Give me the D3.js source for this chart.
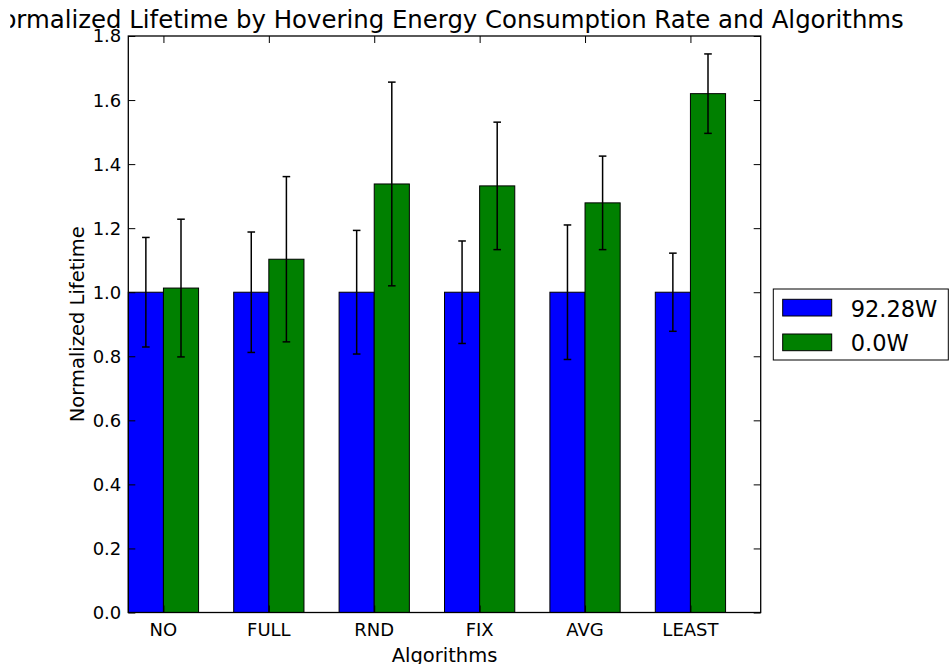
<!DOCTYPE html>
<html>
<head>
<meta charset="utf-8">
<script src="https://cdn.jsdelivr.net/npm/d3@7"></script>
<style>
  body { margin: 0; background: #fff; }
  svg { display: block; font-family: "DejaVu Sans", sans-serif; }
</style>
</head>
<body>
<svg id="chart" width="951" height="664"></svg>
<script>
// data
var algorithms = ["NO", "FULL", "RND", "FIX", "AVG", "LEAST"];
var seriesNames = ["92.28W", "0.0W"];
var seriesColors = ["#0000ff", "#008000"];
var values9228 = [1.0, 1.0, 1.0, 1.0, 1.0, 1.0];
var errors9228 = [0.171, 0.188, 0.193, 0.160, 0.210, 0.122];
var values00 = [1.013, 1.103, 1.338, 1.332, 1.279, 1.620];
var errors00 = [0.215, 0.258, 0.318, 0.199, 0.146, 0.124];
var yTicks = [0.0, 0.2, 0.4, 0.6, 0.8, 1.0, 1.2, 1.4, 1.6, 1.8];

var barWidth = 1 / 3;

var svg = d3.select("#chart");
// plot box (named so they don't clash with window.top)
var plotLeft = 128.3, plotRight = 760.7, plotTop = 36, plotBottom = 612.5;

var xScale = d3.scaleLinear().domain([0, algorithms.length]).range([plotLeft, plotRight]);
var yScale = d3.scaleLinear().domain([0, 1.8]).range([plotBottom, plotTop]);

// bars, one group per series
var series = [
  {name: seriesNames[0], color: seriesColors[0], values: values9228, errors: errors9228, offset: 0},
  {name: seriesNames[1], color: seriesColors[1], values: values00, errors: errors00, offset: barWidth}
];

series.forEach(function(s) {
  var rows = algorithms.map(function(a, i) {
    return {i: i, v: s.values[i], e: s.errors[i]};
  });

  svg.append("g")
    .selectAll("rect")
    .data(rows)
    .enter()
    .append("rect")
    .attr("x", function(d) { return xScale(d.i + s.offset); })
    .attr("y", function(d) { return yScale(d.v); })
    .attr("width", function(d) { return xScale(d.i + s.offset + barWidth) - xScale(d.i + s.offset); })
    .attr("height", function(d) { return yScale(0) - yScale(d.v); })
    .style("fill", s.color)
    .style("stroke", "#000")
    .style("stroke-width", 1);

  // error bars
  var eb = svg.append("g")
    .selectAll("g")
    .data(rows)
    .enter()
    .append("g")
    .style("stroke", "#000")
    .style("stroke-width", 1.5);

  eb.append("line")
    .attr("x1", function(d) { return xScale(d.i + s.offset + barWidth / 2); })
    .attr("x2", function(d) { return xScale(d.i + s.offset + barWidth / 2); })
    .attr("y1", function(d) { return yScale(d.v - d.e); })
    .attr("y2", function(d) { return yScale(d.v + d.e); });

  [-1, 1].forEach(function(sign) {
    eb.append("line")
      .attr("x1", function(d) { return xScale(d.i + s.offset + barWidth / 2) - 3.8; })
      .attr("x2", function(d) { return xScale(d.i + s.offset + barWidth / 2) + 3.8; })
      .attr("y1", function(d) { return yScale(d.v + sign * d.e); })
      .attr("y2", function(d) { return yScale(d.v + sign * d.e); });
  });
});

// axes (ticks inside, like matplotlib classic)
var tickPos = algorithms.map(function(a, i) { return i + barWidth; });

var yAxisL = svg.append("g")
  .attr("transform", "translate(" + plotLeft + ",0)")
  .call(d3.axisRight(yScale).tickValues(yTicks).tickSize(7).tickFormat(""));
var yAxisR = svg.append("g")
  .attr("transform", "translate(" + plotRight + ",0)")
  .call(d3.axisLeft(yScale).tickValues(yTicks).tickSize(7).tickFormat(""));
var xAxisT = svg.append("g")
  .attr("transform", "translate(0," + plotTop + ")")
  .call(d3.axisBottom(xScale).tickValues(tickPos).tickSize(7).tickFormat(""));
var xAxisB = svg.append("g")
  .attr("transform", "translate(0," + plotBottom + ")")
  .call(d3.axisTop(xScale).tickValues(tickPos).tickSize(7).tickFormat(""));

[yAxisL, yAxisR, xAxisT, xAxisB].forEach(function(ax) {
  ax.select(".domain").remove();
  ax.selectAll("line").style("stroke", "#000").style("stroke-width", 1);
});

svg.append("rect")
  .attr("x", plotLeft).attr("y", plotTop)
  .attr("width", plotRight - plotLeft).attr("height", plotBottom - plotTop)
  .style("fill", "none").style("stroke", "#000").style("stroke-width", 1.3);

// tick labels
svg.append("g")
  .selectAll("text")
  .data(yTicks)
  .enter()
  .append("text")
  .attr("x", plotLeft - 7)
  .attr("y", function(d) { return yScale(d); })
  .attr("dy", "0.36em")
  .attr("text-anchor", "end")
  .style("font-size", "18px")
  .text(function(d) { return d.toFixed(1); });

svg.append("g")
  .selectAll("text")
  .data(algorithms)
  .enter()
  .append("text")
  .attr("x", function(d, i) { return xScale(tickPos[i]); })
  .attr("y", 635.5)
  .attr("text-anchor", "middle")
  .style("font-size", "18px")
  .text(function(d) { return d; });

// labels + title
svg.append("text")
  .attr("x", (plotLeft + plotRight) / 2)
  .attr("y", 661.5)
  .attr("text-anchor", "middle")
  .style("font-size", "19.5px")
  .text("Algorithms");

svg.append("text")
  .attr("transform", "translate(84," + (plotTop + plotBottom) / 2 + ")rotate(-90)")
  .attr("text-anchor", "middle")
  .style("font-size", "19.5px")
  .text("Normalized Lifetime");

// the figure in the original was cropped on the left, the title's first letter falls outside
svg.append("clipPath")
  .attr("id", "titleClip")
  .append("rect")
  .attr("x", 10.3).attr("y", 0)
  .attr("width", 951).attr("height", 40);

svg.append("text")
  .attr("x", (plotLeft + plotRight) / 2 - 1)
  .attr("y", 28.3)
  .attr("text-anchor", "middle")
  .attr("clip-path", "url(#titleClip)")
  .style("font-size", "24.4px")
  .text("Normalized Lifetime by Hovering Energy Consumption Rate and Algorithms");

// legend
var legend = svg.append("g");
legend.append("rect")
  .attr("x", 773.3).attr("y", 289)
  .attr("width", 175).attr("height", 71)
  .style("fill", "#fff").style("stroke", "#000").style("stroke-width", 1);

var items = legend.selectAll("g.item")
  .data(series)
  .enter()
  .append("g")
  .attr("class", "item")
  .attr("transform", function(d, i) { return "translate(0," + (i * 34.7) + ")"; });

items.append("rect")
  .attr("x", 782.7).attr("y", 299.3)
  .attr("width", 49).attr("height", 16.7)
  .style("fill", function(d) { return d.color; })
  .style("stroke", "#000").style("stroke-width", 1);

items.append("text")
  .attr("x", 850.7).attr("y", 316.5)
  .style("font-size", "22.5px")
  .text(function(d) { return d.name; });
</script>
</body>
</html>
